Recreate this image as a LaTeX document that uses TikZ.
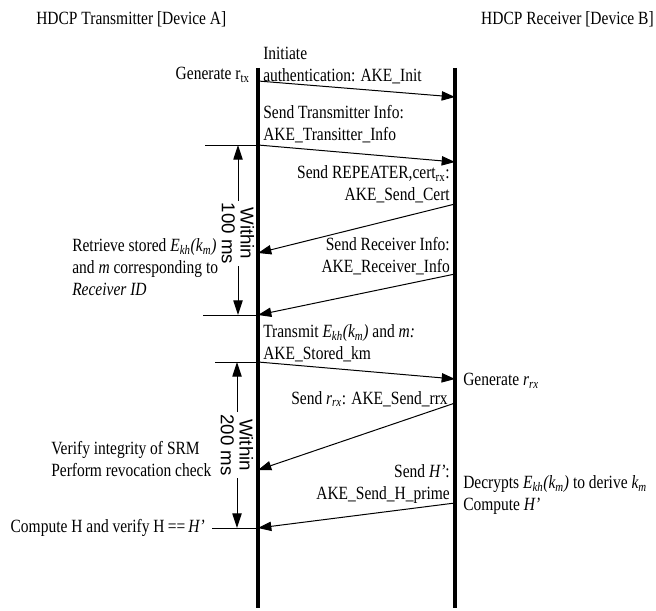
\documentclass[tikz,border=0pt]{standalone}
\usepackage{fontspec}
\setmainfont{Liberation Serif}[FakeStretch=0.83]
\newfontfamily\dimfont{Liberation Sans}
\usetikzlibrary{arrows.meta}
\begin{document}
\begin{tikzpicture}[
    x=0.75pt, y=-0.75pt,
    lbl/.style={inner sep=0pt, font=\fontsize{14}{16.5}\selectfont},
    lifeline/.style={line width=2.5pt},
    msg/.style={-{Triangle[length=10pt,width=7pt]}, line width=0.75pt},
    tick/.style={line width=0.75pt},
    dim/.style={{Triangle[length=11pt,width=7pt]}-{Triangle[length=11pt,width=7pt]}, line width=0.75pt},
    dimtext/.style={rotate=-90, fill=white, inner sep=1.5pt, align=center,
                    font=\dimfont\fontsize{14}{14}\selectfont}]
    \useasboundingbox (0,0) rectangle (656,610);
    \coordinate (txtop) at (258,68);  \coordinate (txbot) at (258,608);
    \coordinate (rxtop) at (455,68);  \coordinate (rxbot) at (455,608);
    \draw[lifeline] (txtop) -- (txbot);
    \draw[lifeline] (rxtop) -- (rxbot);
    \node[lbl, anchor=west] (hdrtx) at (36,19)  {HDCP Transmitter [Device A]};
    \node[lbl, anchor=east] (hdrrx) at (654,19) {HDCP Receiver [Device B]};
    \foreach \n/\tx/\rx in {1/81/97, 2/145/162, 3/253/204, 4/315/274, 5/362/379, 6/470/403, 7/528/503} {
        \coordinate (t\n) at (258,\tx);
        \coordinate (r\n) at (455,\rx);
    }
    \foreach \a/\b in {t1/r1, t2/r2, r3/t3, r4/t4, t5/r5, r6/t6, r7/t7}
        \draw[msg] (\a) -- (\b);
    \node[lbl, anchor=west, align=left]  (init)   at (263,66)  {Initiate\\authentication: AKE\_Init};
    \node[lbl, anchor=west, align=left]  (txinfo) at (263,124) {Send Transmitter Info:\\AKE\_Transitter\_Info};
    \node[lbl, anchor=east, align=right] (cert)   at (450,184) {Send REPEATER,cert\textsubscript{rx}:\\AKE\_Send\_Cert};
    \node[lbl, anchor=east, align=right] (rxinfo) at (450,256) {Send Receiver Info:\\AKE\_Receiver\_Info};
    \node[lbl, anchor=west, align=left]  (stored) at (263,343) {Transmit \textit{E\textsubscript{kh}(k\textsubscript{m})} and \textit{m:}\\AKE\_Stored\_km};
    \node[lbl, anchor=east]              (rrx)    at (448,399) {Send \textit{r\textsubscript{rx}}: AKE\_Send\_rrx};
    \node[lbl, anchor=east, align=right] (hprime) at (450,484) {Send \textit{H’}:\\AKE\_Send\_H\_prime};
    \node[lbl, anchor=east] (gentx) at (250,75) {Generate r\textsubscript{tx}};
    \node[lbl, anchor=west, align=left] (retrieve) at (72,267)
        {Retrieve stored \textit{E\textsubscript{kh}(k\textsubscript{m})}\\and \textit{m} corresponding to\\\textit{Receiver ID}};
    \node[lbl, anchor=west, align=left] (verify) at (51,459) {Verify integrity of SRM\\Perform revocation check};
    \node[lbl, anchor=east] (compute) at (205,528) {Compute H and verify H\,==\,\textit{H’}};
    \node[lbl, anchor=west] (genrx) at (463,381) {Generate \textit{r\textsubscript{rx}}};
    \node[lbl, anchor=west, align=left] (decrypt) at (463,495)
        {Decrypts \textit{E\textsubscript{kh}(k\textsubscript{m})} to derive \textit{k\textsubscript{m}}\\Compute \textit{H’}};
    \coordinate (e2) at (205,145);
    \coordinate (e4) at (203,315);
    \coordinate (e5) at (215,362);
    \coordinate (e7) at (212,528);
    \foreach \a/\b in {e2/t2, e4/t4, e5/t5, e7/t7}
        \draw[tick] (\a) -- (\b);
    \coordinate (d1t) at (238,145);  \coordinate (d1b) at (238,315);
    \coordinate (d2t) at (237,362);  \coordinate (d2b) at (237,528);
    \draw[dim] (d1t) -- node[dimtext, pos=0.52] (within1) {Within\\100 ms} (d1b);
    \draw[dim] (d2t) -- node[dimtext] (within2) {Within\\200 ms} (d2b);
\end{tikzpicture}
\end{document}
